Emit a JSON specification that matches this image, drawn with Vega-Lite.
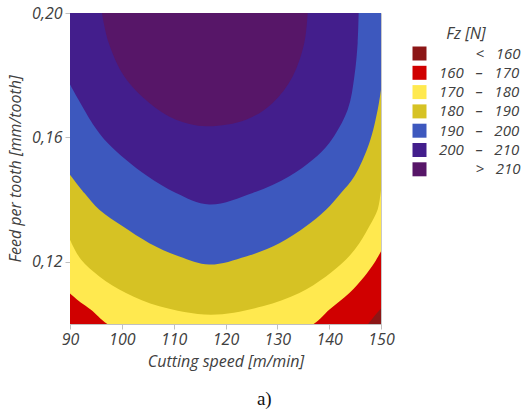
{
  "$schema": "https://vega.github.io/schema/vega-lite/v6.json",
  "width": 311,
  "height": 311,
  "autosize": {"type": "none"},
  "padding": {"left": 70, "top": 13, "right": 149, "bottom": 86},
  "background": "white",
  "title": {
    "text": "a)",
    "orient": "bottom",
    "anchor": "middle",
    "frame": "bounds",
    "font": "Liberation Serif",
    "fontSize": 19,
    "fontWeight": "normal",
    "color": "#111",
    "offset": 21
  },
  "config": {
    "view": {"stroke": "#c8c8c8", "strokeWidth": 1},
    "axis": {
      "grid": false,
      "domainColor": "#c0c0c0",
      "tickColor": "#c0c0c0",
      "tickSize": 5,
      "labelFont": "Open Sans",
      "labelFontStyle": "italic",
      "labelFontSize": 16,
      "labelColor": "#404040",
      "titleFont": "Open Sans",
      "titleFontStyle": "italic",
      "titleFontWeight": "normal",
      "titleFontSize": 16,
      "titleColor": "#404040"
    },
    "legend": {
      "labelFont": "Open Sans",
      "labelFontStyle": "italic",
      "labelFontSize": 15,
      "labelColor": "#404040",
      "titleFont": "Open Sans",
      "titleFontStyle": "italic",
      "titleFontWeight": "normal",
      "titleFontSize": 16,
      "titleColor": "#404040"
    }
  },
  "data": {
    "values": [
      {"level": 150, "speed": 90, "feed": 0.1},
      {"level": 150, "speed": 150, "feed": 0.1},

      {"level": 160, "speed": 90, "feed": 0.09},
      {"level": 160, "speed": 140, "feed": 0.093},
      {"level": 160, "speed": 147.5, "feed": 0.1},
      {"level": 160, "speed": 148.7, "feed": 0.1025},
      {"level": 160, "speed": 150, "feed": 0.105},

      {"level": 170, "speed": 90, "feed": 0.1098},
      {"level": 170, "speed": 92, "feed": 0.107},
      {"level": 170, "speed": 94.05, "feed": 0.1046},
      {"level": 170, "speed": 97.2, "feed": 0.1},
      {"level": 170, "speed": 105, "feed": 0.093},
      {"level": 170, "speed": 117, "feed": 0.089},
      {"level": 170, "speed": 128, "feed": 0.093},
      {"level": 170, "speed": 137, "feed": 0.1},
      {"level": 170, "speed": 140, "feed": 0.1046},
      {"level": 170, "speed": 143.9, "feed": 0.11},
      {"level": 170, "speed": 146.8, "feed": 0.1153},
      {"level": 170, "speed": 148.7, "feed": 0.1196},
      {"level": 170, "speed": 150, "feed": 0.1234},

      {"level": 180, "speed": 90, "feed": 0.1271},
      {"level": 180, "speed": 92.12, "feed": 0.1207},
      {"level": 180, "speed": 95.66, "feed": 0.1153},
      {"level": 180, "speed": 100.8, "feed": 0.11},
      {"level": 180, "speed": 107.24, "feed": 0.1057},
      {"level": 180, "speed": 117.2, "feed": 0.103},
      {"level": 180, "speed": 127.17, "feed": 0.1057},
      {"level": 180, "speed": 134.25, "feed": 0.11},
      {"level": 180, "speed": 139.39, "feed": 0.1153},
      {"level": 180, "speed": 143.25, "feed": 0.1207},
      {"level": 180, "speed": 145.82, "feed": 0.126},
      {"level": 180, "speed": 147.75, "feed": 0.1314},
      {"level": 180, "speed": 149.36, "feed": 0.1368},
      {"level": 180, "speed": 150, "feed": 0.1432},

      {"level": 190, "speed": 90, "feed": 0.148},
      {"level": 190, "speed": 92.77, "feed": 0.1421},
      {"level": 190, "speed": 95.66, "feed": 0.1367},
      {"level": 190, "speed": 100.16, "feed": 0.1314},
      {"level": 190, "speed": 105.31, "feed": 0.126},
      {"level": 190, "speed": 111.09, "feed": 0.1217},
      {"level": 190, "speed": 116.88, "feed": 0.1191},
      {"level": 190, "speed": 123.96, "feed": 0.1217},
      {"level": 190, "speed": 130.39, "feed": 0.126},
      {"level": 190, "speed": 135.53, "feed": 0.1314},
      {"level": 190, "speed": 139.39, "feed": 0.1367},
      {"level": 190, "speed": 142.28, "feed": 0.1421},
      {"level": 190, "speed": 144.86, "feed": 0.1475},
      {"level": 190, "speed": 147.75, "feed": 0.1582},
      {"level": 190, "speed": 149.36, "feed": 0.1689},
      {"level": 190, "speed": 150, "feed": 0.1753},

      {"level": 200, "speed": 90, "feed": 0.177},
      {"level": 200, "speed": 94.69, "feed": 0.1636},
      {"level": 200, "speed": 97.27, "feed": 0.1582},
      {"level": 200, "speed": 100.8, "feed": 0.1528},
      {"level": 200, "speed": 104.98, "feed": 0.1475},
      {"level": 200, "speed": 110.45, "feed": 0.1421},
      {"level": 200, "speed": 116.88, "feed": 0.1384},
      {"level": 200, "speed": 125.24, "feed": 0.1421},
      {"level": 200, "speed": 132.32, "feed": 0.1475},
      {"level": 200, "speed": 136.82, "feed": 0.1528},
      {"level": 200, "speed": 140.03, "feed": 0.1582},
      {"level": 200, "speed": 143.57, "feed": 0.1689},
      {"level": 200, "speed": 144.86, "feed": 0.1796},
      {"level": 200, "speed": 145.5, "feed": 0.1904},
      {"level": 200, "speed": 145.69, "feed": 0.2},

      {"level": 210, "speed": 96.17, "feed": 0.2},
      {"level": 210, "speed": 97.46, "feed": 0.1904},
      {"level": 210, "speed": 100.48, "feed": 0.1796},
      {"level": 210, "speed": 105.31, "feed": 0.1711},
      {"level": 210, "speed": 110.45, "feed": 0.1657},
      {"level": 210, "speed": 116.24, "feed": 0.1636},
      {"level": 210, "speed": 123.96, "feed": 0.1657},
      {"level": 210, "speed": 129.1, "feed": 0.1711},
      {"level": 210, "speed": 132.96, "feed": 0.1796},
      {"level": 210, "speed": 135.21, "feed": 0.1904},
      {"level": 210, "speed": 135.85, "feed": 0.2}
    ]
  },
  "encoding": {
    "x": {
      "field": "speed",
      "type": "quantitative",
      "title": "Cutting speed [m/min]",
      "scale": {"domain": [90, 150], "nice": false, "zero": false},
      "axis": {"values": [90, 100, 110, 120, 130, 140, 150], "labelPadding": 2, "titlePadding": 6, "labelFlush": false}
    },
    "y": {
      "field": "feed",
      "type": "quantitative",
      "title": "Feed per tooth [mm/tooth]",
      "scale": {"domain": [0.1, 0.2], "nice": false, "zero": false},
      "axis": {
        "values": [0.12, 0.16, 0.2],
        "labelExpr": "replace(format(datum.value, '.2f'), '.', ',')",
        "labelPadding": 3,
        "titlePadding": 8,
        "labelFlush": false
      }
    },
    "y2": {"datum": 0.2},
    "color": {
      "field": "level",
      "type": "ordinal",
      "title": "Fz [N]",
      "scale": {
        "domain": [150, 160, 170, 180, 190, 200, 210],
        "range": ["#8c1616", "#d00000", "#ffe94f", "#d6c224", "#3d58be", "#431e8c", "#571668"]
      },
      "legend": {
        "orient": "none",
        "legendX": 342,
        "legendY": 13,
        "padding": 0,
        "symbolType": "square",
        "symbolSize": 196,
        "symbolStrokeWidth": 0,
        "symbolOpacity": 1,
        "rowPadding": 3.3,
        "labelOffset": 12,
        "titleAnchor": "middle",
        "titlePadding": 4,
        "labelExpr": "datum.value == 150 ? '\u200b\u2007\u2007\u2007\u00a0\u00a0\u00a0<\u00a0\u00a0\u00a0160' : datum.value == 210 ? '\u200b\u2007\u2007\u2007\u00a0\u00a0\u00a0>\u00a0\u00a0\u00a0210' : datum.value + '\u00a0\u00a0\u00a0–\u00a0\u00a0\u00a0' + (datum.value + 10)"
      }
    }
  },
  "layer": [
    {"transform": [{"filter": "datum.level == 150"}], "mark": {"type": "area", "clip": true, "opacity": 1}},
    {"transform": [{"filter": "datum.level == 160"}], "mark": {"type": "area", "clip": true, "interpolate": "monotone", "opacity": 1}},
    {"transform": [{"filter": "datum.level == 170"}], "mark": {"type": "area", "clip": true, "interpolate": "catmull-rom", "opacity": 1}},
    {"transform": [{"filter": "datum.level == 180"}], "mark": {"type": "area", "clip": true, "interpolate": "catmull-rom", "opacity": 1}},
    {"transform": [{"filter": "datum.level == 190"}], "mark": {"type": "area", "clip": true, "interpolate": "catmull-rom", "opacity": 1}},
    {"transform": [{"filter": "datum.level == 200"}], "mark": {"type": "area", "clip": true, "interpolate": "catmull-rom", "opacity": 1}},
    {"transform": [{"filter": "datum.level == 210"}], "mark": {"type": "area", "clip": true, "interpolate": "catmull-rom", "opacity": 1}}
  ]
}
